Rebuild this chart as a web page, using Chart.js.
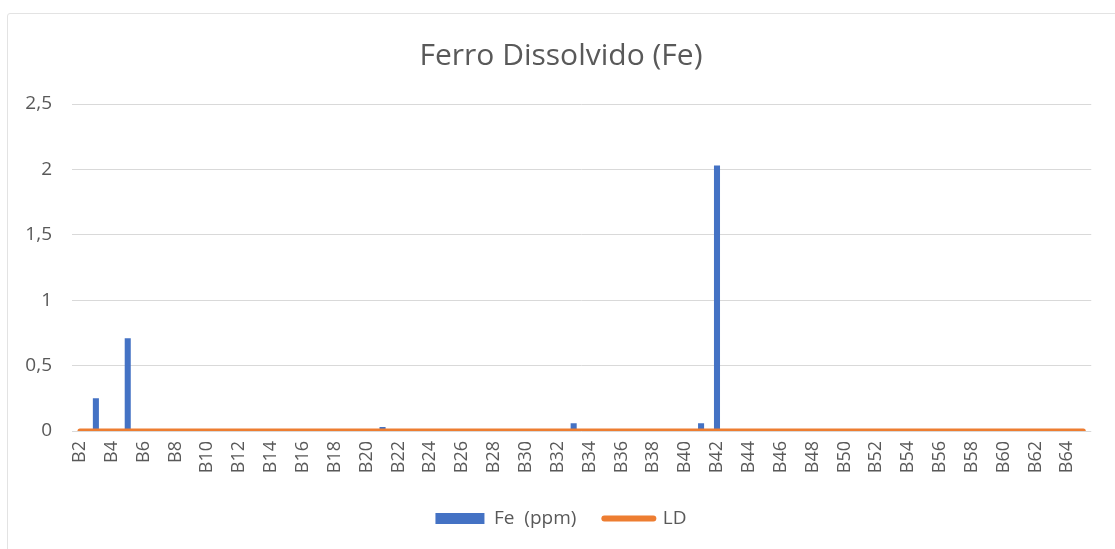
<!DOCTYPE html>
<html>
<head>
<meta charset="utf-8">
<script src="https://cdn.jsdelivr.net/npm/chart.js@4.4.1/dist/chart.umd.min.js"></script>
<style>
  html, body { margin: 0; padding: 0; background: #fff; overflow: hidden; }
  #frame { position: absolute; left: 7px; top: 13px; width: 1200px; height: 600px; border: 1.5px solid #e3e3e3; border-radius: 3px; }
  #chart { position: absolute; left: 0; top: 0; }
</style>
</head>
<body>
<div id="frame"></div>
<canvas id="chart" width="1115" height="549"></canvas>
<script>
const sampleIds = [];
for (let i = 2; i <= 65; i++) sampleIds.push('B' + i);

// Fe (ppm) per sample (only a few points are above zero)
const feValues = [
  0, 0.25, 0, 0.71, 0, 0, 0, 0, 0, 0,     // B2..B11
  0, 0, 0, 0, 0, 0, 0, 0, 0, 0.03,        // B12..B21
  0, 0, 0, 0, 0, 0, 0, 0, 0, 0,           // B22..B31
  0, 0.06, 0, 0, 0, 0, 0, 0, 0, 0.06,     // B32..B41
  2.03, 0, 0, 0, 0, 0, 0, 0, 0, 0,        // B42..B51
  0, 0, 0, 0, 0, 0, 0, 0, 0, 0,           // B52..B61
  0, 0, 0, 0                              // B62..B65
];

// detection limit line (LD)
const ldValues = [
  0, 0, 0, 0, 0, 0, 0, 0, 0, 0,
  0, 0, 0, 0, 0, 0, 0, 0, 0, 0,
  0, 0, 0, 0, 0, 0, 0, 0, 0, 0,
  0, 0, 0, 0, 0, 0, 0, 0, 0, 0,
  0, 0, 0, 0, 0, 0, 0, 0, 0, 0,
  0, 0, 0, 0, 0, 0, 0, 0, 0, 0,
  0, 0, 0, 0
];

const yTicks = [0, 0.5, 1, 1.5, 2, 2.5];

const grey = '#595959';
const ctx = document.getElementById('chart').getContext('2d');

new Chart(ctx, {
  type: 'bar',
  data: {
    labels: sampleIds,
    datasets: [
      {
        label: 'Fe  (ppm)',
        data: feValues,
        backgroundColor: '#4472C4',
        barPercentage: 0.38,
        categoryPercentage: 1,
        order: 1
      },
      {
        type: 'line',
        label: 'LD',
        data: ldValues,
        borderColor: '#ED7D31',
        backgroundColor: '#ED7D31',
        borderWidth: 5,
        pointRadius: 0,
        borderCapStyle: 'round',
        order: 0
      }
    ]
  },
  options: {
    responsive: false,
    animation: false,
    layout: { padding: { top: 30, right: 15, bottom: 11, left: 22 } },
    plugins: {
      title: {
        display: true,
        text: 'Ferro Dissolvido (Fe)',
        color: grey,
        font: { family: 'Open Sans', size: 30, weight: 'normal' },
        padding: { top: 8, bottom: 30 }
      },
      legend: {
        position: 'bottom',
        labels: {
          color: grey,
          font: { family: 'Open Sans', size: 19 },
          usePointStyle: true,
          pointStyleWidth: 49,
          boxHeight: 11,
          padding: 28,
          sort: (a, b) => a.datasetIndex - b.datasetIndex,
          generateLabels: (chart) => {
            const items = Chart.defaults.plugins.legend.labels.generateLabels(chart);
            items.forEach(it => {
              if (it.datasetIndex === 0) {
                it.pointStyle = 'rect';
                it.lineWidth = 0;
              } else {
                it.pointStyle = 'line';
                it.lineWidth = 6;
                it.lineCap = 'round';
              }
            });
            return items;
          }
        }
      },
      tooltip: { enabled: false }
    },
    scales: {
      x: {
        grid: { display: false, drawTicks: false },
        border: { display: false },
        afterFit: (scale) => { scale.height = 50; },
        ticks: {
          color: grey,
          font: { family: 'Open Sans', size: 18 },
          autoSkip: false,
          minRotation: 90,
          maxRotation: 90,
          padding: 10,
          callback: function (val, idx) {
            return idx % 2 === 0 ? this.getLabelForValue(val) : '';
          }
        }
      },
      y: {
        min: 0,
        max: 2.5,
        afterFit: (scale) => { scale.width = 50; },
        afterBuildTicks: (scale) => { scale.ticks = yTicks.map(v => ({ value: v })); },
        grid: { color: '#d9d9d9', lineWidth: 1, drawTicks: false },
        border: { display: false },
        ticks: {
          color: grey,
          font: { family: 'Open Sans', size: 19 },
          padding: 20,
          callback: (v) => String(v).replace('.', ',')
        }
      }
    }
  }
});
</script>
</body>
</html>
